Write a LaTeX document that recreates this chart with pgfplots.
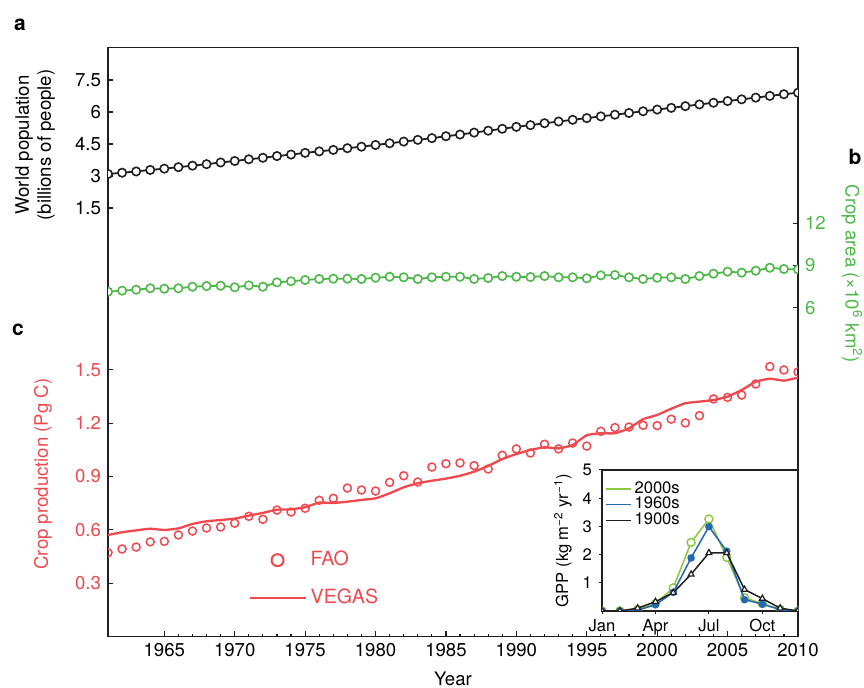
\documentclass[border=0pt]{standalone}
\usepackage{fontspec}
\setmainfont{TeX Gyre Heros}
\usepackage{pgfplots}
\pgfplotsset{compat=1.18}
\definecolor{cblack}{RGB}{35,31,32}
\definecolor{cgreen}{RGB}{77,184,72}
\definecolor{cred}{RGB}{239,72,78}
\definecolor{ilgreen}{RGB}{141,198,63}
\definecolor{iblue}{RGB}{36,104,178}
\newcommand{\mf}{\fontsize{9.3}{11}\selectfont}
\newcommand{\insetfont}{\fontsize{8.3}{9.8}\selectfont}
\pgfplotsset{
  mainax/.style={
    at={(54pt,25.75pt)}, anchor=south west,
    scale only axis, width=345pt, height=294.6pt,
    xmin=1961, xmax=2010,
    clip marker paths=true,
    tick align=inside,
    /pgf/number format/assume math mode=true,
    ticklabel style={font=\mf},
    major tick length=2.6pt, minor tick length=1.4pt,
    tick style={cblack, line width=0.6pt},
  },
}
\begin{document}
\begin{tikzpicture}
\useasboundingbox (0,0) rectangle (432pt,344pt);
% panel c (base axis with box)
\begin{axis}[mainax, ymin=0, ymax=3.314,
  axis line style={cblack, line width=0.7pt},
  xtick={1965,1970,1975,1980,1985,1990,1995,2000,2005,2010},
  minor x tick num=4, xtick pos=bottom,
  x tick label style={/pgf/number format/1000 sep={}},
  ytick={0.3,0.6,0.9,1.2,1.5}, ytick pos=left,
  y tick label style={text=cred, /pgf/number format/.cd, fixed, fixed zerofill, precision=1},
  legend style={at={(0.2029,0.0976)}, anchor=west, draw=none, fill=none,
    inner sep=0pt, row sep=6pt, text=cred, font=\fontsize{9.8}{11.5}\selectfont,
    nodes={inner sep=2pt}},
  legend cell align=left]
\addplot[only marks, mark=o, mark size=2pt, cred, mark options={line width=0.75pt},
  legend image code/.code={\path (0pt,0pt) (28pt,0pt); \draw[cred, line width=1pt] (14pt,0pt) circle (3pt);}]
coordinates {
(1961,0.471)(1962,0.492)(1963,0.503)(1964,0.532)(1965,0.535)(1966,0.571)(1967,0.593)(1968,0.610)(1969,0.616)(1970,0.637)
(1971,0.676)(1972,0.659)(1973,0.711)(1974,0.700)(1975,0.721)(1976,0.766)(1977,0.777)(1978,0.835)(1979,0.824)(1980,0.818)
(1981,0.867)(1982,0.904)(1983,0.869)(1984,0.953)(1985,0.972)(1986,0.976)(1987,0.961)(1988,0.942)(1989,1.019)(1990,1.055)
(1991,1.032)(1992,1.081)(1993,1.055)(1994,1.088)(1995,1.071)(1996,1.154)(1997,1.175)(1998,1.178)(1999,1.188)(2000,1.186)
(2001,1.222)(2002,1.201)(2003,1.242)(2004,1.336)(2005,1.345)(2006,1.358)(2007,1.420)(2008,1.518)(2009,1.499)(2010,1.488)};
\addlegendentry{FAO}
\addplot[cred, line width=1.15pt, smooth, tension=0.3,
  legend image code/.code={\draw[cred, line width=1.15pt] (0pt,0pt) -- (28pt,0pt);}]
coordinates {
(1961,0.571)(1962,0.586)(1963,0.597)(1964,0.606)(1965,0.599)(1966,0.608)(1967,0.633)(1968,0.648)(1969,0.655)(1970,0.663)
(1971,0.680)(1972,0.695)(1973,0.713)(1974,0.715)(1975,0.727)(1976,0.753)(1977,0.751)(1978,0.758)(1979,0.768)(1980,0.777)
(1981,0.805)(1982,0.839)(1983,0.862)(1984,0.876)(1985,0.888)(1986,0.904)(1987,0.927)(1988,0.959)(1989,0.998)(1990,1.026)
(1991,1.049)(1992,1.064)(1993,1.058)(1994,1.077)(1995,1.132)(1996,1.143)(1997,1.143)(1998,1.171)(1999,1.222)(2000,1.246)
(2001,1.281)(2002,1.312)(2003,1.321)(2004,1.330)(2005,1.349)(2006,1.386)(2007,1.433)(2008,1.450)(2009,1.439)(2010,1.456)};
\addlegendentry{VEGAS}
\end{axis}
% panel a
\begin{axis}[mainax, ymin=-18.59, ymax=9.03, axis line style={draw=none},
  xtick=\empty, ytick={1.5,3,4.5,6,7.5}, ytick pos=left]
\addplot[cblack, line width=0.9pt, mark=*, mark size=2.1pt, mark options={fill=white, draw=cblack, line width=0.8pt}]
coordinates {
(1961,3.09)(1962,3.15)(1963,3.21)(1964,3.28)(1965,3.34)(1966,3.41)(1967,3.48)(1968,3.55)(1969,3.63)(1970,3.70)
(1971,3.78)(1972,3.85)(1973,3.93)(1974,4.00)(1975,4.08)(1976,4.15)(1977,4.22)(1978,4.30)(1979,4.37)(1980,4.45)
(1981,4.53)(1982,4.61)(1983,4.69)(1984,4.77)(1985,4.86)(1986,4.94)(1987,5.03)(1988,5.12)(1989,5.21)(1990,5.30)
(1991,5.38)(1992,5.47)(1993,5.55)(1994,5.63)(1995,5.71)(1996,5.79)(1997,5.87)(1998,5.95)(1999,6.03)(2000,6.11)
(2001,6.19)(2002,6.27)(2003,6.35)(2004,6.43)(2005,6.51)(2006,6.59)(2007,6.67)(2008,6.75)(2009,6.83)(2010,6.90)};
\end{axis}
% panel b
\begin{axis}[mainax, ymin=-17.37, ymax=24.51, axis line style={draw=none},
  xtick=\empty, ytick={6,9,12}, ytick pos=right, yticklabel pos=right,
  y tick label style={text=cgreen}]
\addplot[cgreen, line width=0.9pt, mark=*, mark size=2.1pt, mark options={fill=white, draw=cgreen, line width=0.8pt}]
coordinates {
(1961,7.14)(1962,7.21)(1963,7.28)(1964,7.38)(1965,7.35)(1966,7.38)(1967,7.49)(1968,7.54)(1969,7.56)(1970,7.45)
(1971,7.59)(1972,7.49)(1973,7.80)(1974,7.88)(1975,7.97)(1976,8.04)(1977,8.06)(1978,8.06)(1979,8.04)(1980,8.13)
(1981,8.20)(1982,8.16)(1983,8.04)(1984,8.16)(1985,8.20)(1986,8.20)(1987,8.04)(1988,8.11)(1989,8.25)(1990,8.20)
(1991,8.18)(1992,8.25)(1993,8.16)(1994,8.16)(1995,8.09)(1996,8.30)(1997,8.32)(1998,8.16)(1999,8.04)(2000,8.13)
(2001,8.16)(2002,8.04)(2003,8.25)(2004,8.42)(2005,8.56)(2006,8.49)(2007,8.63)(2008,8.84)(2009,8.75)(2010,8.72)};
\end{axis}
% inset
\begin{axis}[at={(301pt,38.5pt)}, anchor=south west, scale only axis, width=98pt, height=70.5pt,
  xmin=1, xmax=12, ymin=0, ymax=5,
  axis background/.style={fill=white},
  axis line style={cblack, line width=0.6pt},
  clip marker paths=true,
  xtick={1,4,7,10}, xticklabels={Jan,Apr,Jul,Oct},
  ytick={1,2,3,4,5},
  tick align=outside, major tick length=1.6pt,
  tick style={cblack, line width=0.5pt},
  xtick pos=bottom, ytick pos=left,
  /pgf/number format/assume math mode=true,
  ticklabel style={font=\insetfont},
  x tick label style={yshift=1pt},
  ylabel={GPP (kg m\textsuperscript{−2} yr\textsuperscript{−1})},
  ylabel style={font=\insetfont, at={(axis description cs:-0.199,0.5)}, anchor=center},
  legend style={at={(0.015,0.94)}, anchor=north west, draw=none, fill=none,
    font=\insetfont, row sep=-1.8pt, inner sep=0pt, nodes={inner sep=1.2pt}},
  legend cell align=left,
  legend image code/.code={\draw[#1, line width=0.9pt] (0pt,0pt) -- (12.5pt,0pt);}]
\addplot[ilgreen, line width=0.75pt, mark=*, mark size=2pt, mark options={fill=white, draw=ilgreen, line width=0.7pt}]
coordinates {(1,0)(2,0)(3,0.05)(4,0.26)(5,0.82)(6,2.43)(7,3.26)(8,1.90)(9,0.47)(10,0.26)(11,0.06)(12,0)};
\addlegendentry{2000s}
\addplot[iblue, line width=0.75pt, mark=*, mark size=1.5pt, mark options={fill=iblue, draw=iblue}]
coordinates {(1,0)(2,0)(3,0.03)(4,0.22)(5,0.66)(6,1.88)(7,2.99)(8,2.12)(9,0.40)(10,0.24)(11,0.05)(12,0)};
\addlegendentry{1960s}
\addplot[cblack, line width=0.75pt, mark=triangle*, mark size=1.7pt, mark options={fill=white, draw=cblack, line width=0.6pt}]
coordinates {(1,0)(2,0)(3,0.10)(4,0.33)(5,0.65)(6,1.30)(7,2.06)(8,2.06)(9,0.76)(10,0.44)(11,0.10)(12,0)};
\addlegendentry{1900s}
\end{axis}
% labels
\node[font=\fontsize{10.5}{12}\selectfont\bfseries] at (10pt,331.5pt) {a};
\node[font=\fontsize{10.5}{12}\selectfont\bfseries] at (427.5pt,265.5pt) {b};
\node[font=\fontsize{10.5}{12}\selectfont\bfseries] at (9pt,179pt) {c};
\node[font=\mf, rotate=90, align=center] at (17.5pt,271.5pt) {World population\\(billions of people)};
\node[font=\mf, rotate=90, text=cred] at (21.5pt,107pt) {Crop production (Pg C)};
\node[font=\mf, rotate=-90, text=cgreen] at (426pt,207pt) {Crop area (×10\textsuperscript{6} km\textsuperscript{2})};
\node[font=\mf] at (226.5pt,4.8pt) {Year};
\end{tikzpicture}
\end{document}
